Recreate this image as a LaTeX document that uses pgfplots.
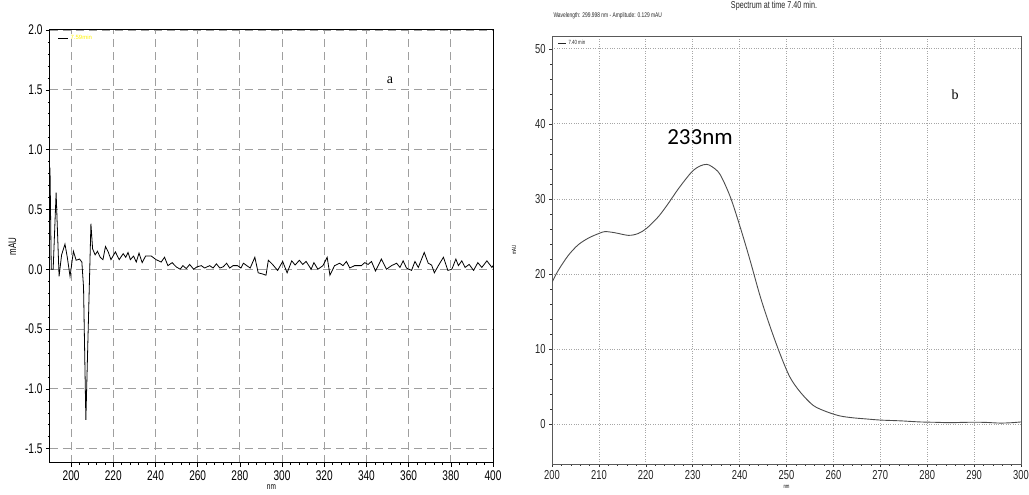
\documentclass[border=0pt]{standalone}
\usepackage{fontspec}
\setmainfont{Liberation Sans}
\newfontfamily\narrowsans[FakeStretch=0.72]{Liberation Sans}
\newfontfamily\seriffont{Liberation Serif}
\newfontfamily\carlito{Carlito}
\usepackage{pgfplots}
\pgfplotsset{compat=1.18}
\begin{document}
\begin{tikzpicture}
\path[use as bounding box] (0pt,0pt) rectangle (1029pt,495pt);
% ---------------- panel a ----------------
\begin{axis}[
  at={(50pt,32pt)}, anchor=south west, scale only axis,
  width=443pt, height=433pt,
  xmin=190, xmax=400, ymin=-1.62, ymax=2.0,
  xtick={200,220,...,400}, ytick={-1.5,-1,...,2},
  minor x tick num=4, minor y tick num=4,
  xtick pos=bottom, ytick pos=left,
  grid=major,
  major grid style={gray!75, dash pattern=on 8pt off 5pt, line width=0.9pt},
  axis line style={black, line width=1pt},
  tick style={black, line width=0.5pt}, tick align=outside,
  major tick length=4pt, minor tick length=2pt,
  /pgf/number format/assume math mode=true,
  ticklabel style={font=\narrowsans\fontsize{14}{14}\selectfont},
  yticklabel style={/pgf/number format/fixed, /pgf/number format/fixed zerofill, /pgf/number format/precision=1},
  xticklabel style={/pgf/number format/1000 sep={}},
  xlabel={nm}, ylabel={mAU},
  xlabel style={font=\narrowsans\fontsize{9}{9}\selectfont, yshift=3pt},
  ylabel style={font=\narrowsans\fontsize{11}{11}\selectfont, yshift=2pt},
  legend style={at={(0.015,0.995)}, anchor=north west, draw=none, fill=none,
    font=\fontsize{6}{6}\selectfont, text=yellow, inner sep=1pt},
  legend image code/.code={\draw[black, line width=0.8pt] (0pt,0pt) -- (10pt,0pt);},
]
\addplot[black, line width=0.8pt] coordinates {
(190,0.85) (190.6,0.0) (191.5,0.0) (192.9,0.64) (194.3,-0.06) (195.5,0.12)
(197.1,0.21) (198.2,0.10) (199.5,-0.06) (201.1,0.15) (202.4,0.075) (204.0,0.085)
(205.1,0.06) (205.9,-0.15) (207.0,-1.26) (209.4,0.38) (210.2,0.17) (211.4,0.12)
(212.5,0.15) (213.8,0.10) (215.1,0.08) (216.3,0.19) (217.6,0.145) (218.9,0.08)
(221.0,0.145) (222.8,0.08) (224.7,0.13) (225.9,0.10) (227.0,0.14) (228.1,0.08)
(229.6,0.11) (230.9,0.06) (232.2,0.135) (233.7,0.055) (235.3,0.11) (238.0,0.11)
(240.3,0.08) (242.7,0.06) (244.3,0.10) (245.9,0.03) (247.9,0.055) (249.8,0.02)
(251.7,0.0) (253.0,0.03) (254.6,0.005) (256.2,0.04) (258.1,0.0) (259.7,0.02)
(261.7,0.03) (263.3,0.01) (265.7,0.03) (267.3,0.01) (268.9,0.045) (270.5,0.01)
(272.1,0.02) (273.7,0.05) (275.2,0.01) (276.8,0.03) (278.9,0.03) (280.5,0.01)
(281.7,0.05) (283.3,0.03) (284.9,0.01) (287.1,0.10) (288.7,-0.03) (290.8,-0.04)
(292.4,-0.05) (293.5,0.075) (295.5,0.04) (297.9,-0.01) (300.3,0.065) (302.4,-0.03)
(304.6,0.07) (306.2,0.035) (308.2,0.075) (309.8,0.04) (311.4,0.065) (313.8,0.0)
(315.1,0.055) (317.0,0.0) (319.4,0.03) (321.4,0.10) (322.7,-0.05) (324.9,0.03)
(327.3,0.05) (328.9,0.03) (330.5,0.065) (332.1,0.01) (334.4,0.03) (337.6,0.03)
(339.2,0.055) (340.8,0.04) (342.4,0.065) (344.3,-0.015) (347.1,0.085) (349.5,0.0)
(351.9,0.03) (354.3,0.05) (355.9,0.015) (357.4,0.07) (359.0,0.01) (361.4,-0.01)
(363.0,0.065) (364.6,0.015) (367.4,0.14) (369.3,0.05) (370.9,0.035) (372.2,-0.03)
(374.1,0.03) (376.5,0.10) (378.6,-0.01) (380.5,0.0) (382.4,0.085) (383.6,0.03)
(385.2,0.07) (386.8,0.015) (388.7,0.04) (390.8,-0.01) (392.8,0.055) (394.7,0.015)
(397.1,0.07) (399.5,0.015) (400,0.03)
};
\addlegendentry{7.59min}
\end{axis}
\node[font=\seriffont\fontsize{14}{14}\selectfont] at (390pt,415pt) {a};
% ---------------- panel b ----------------
\begin{axis}[
  at={(552pt,31pt)}, anchor=south west, scale only axis,
  width=469pt, height=428pt,
  xmin=200, xmax=300, ymin=-5.3, ymax=51.7,
  xtick={200,210,...,300}, ytick={0,10,...,50},
  minor x tick num=4, minor y tick num=4,
  xtick pos=bottom, ytick pos=left,
  grid=major,
  major grid style={gray!70, dotted, line width=0.7pt},
  axis line style={gray!70!black, line width=0.9pt},
  tick style={gray!40!black, line width=0.5pt}, tick align=outside,
  major tick length=3pt, minor tick length=2pt,
  /pgf/number format/assume math mode=true,
  ticklabel style={font=\narrowsans\fontsize{13}{13}\selectfont, text=gray!30!black},
  xticklabel style={/pgf/number format/1000 sep={}},
  xlabel={nm}, ylabel={mAU},
  xlabel style={font=\narrowsans\fontsize{6}{6}\selectfont, yshift=1pt},
  ylabel style={font=\narrowsans\fontsize{6}{6}\selectfont, yshift=12pt},
  legend style={at={(0.01,0.997)}, anchor=north west, draw=none, fill=none,
    font=\narrowsans\fontsize{6}{6}\selectfont, text=gray!30!black, inner sep=1pt},
  legend image code/.code={\draw[gray!30!black, line width=0.7pt] (0pt,0pt) -- (8pt,0pt);},
]
\addplot[gray!60!black, line width=0.9pt, smooth] coordinates {
(200,18.9) (201.35,20.5) (203.5,22.5) (205.6,23.9) (207.8,24.8) (210,25.4)
(211.3,25.65) (213.4,25.5) (216.3,25.15) (218.4,25.4) (220.2,26.1) (222.7,27.65)
(224.8,29.4) (227,31.4) (229.8,33.6) (231.6,34.4) (233.0,34.6) (234.1,34.3)
(235.8,33.3) (238,30.3) (240.1,26.3) (242.2,21.9) (244.4,17.0) (246.5,13.0)
(248.6,9.4) (250.7,6.3) (252.9,4.3) (255.7,2.5) (258.6,1.65) (261.4,1.1)
(264.2,0.85) (267,0.7) (270,0.55) (274.2,0.45) (278.5,0.3) (282,0.25)
(284.9,0.2) (288,0.25) (292,0.25) (295.5,0.15) (298,0.2) (300,0.3)
};
\addlegendentry{7.40 min}
\end{axis}
\node[font=\narrowsans\fontsize{10}{10}\selectfont, text=gray!30!black] at (774pt,489pt) {Spectrum at time 7.40 min.};
\node[font=\narrowsans\fontsize{6.8}{6.8}\selectfont, text=gray!30!black, anchor=west] at (550pt,479pt) {Wavelength: 299.998 nm - Amplitude: 0.129 mAU};
\node[font=\seriffont\fontsize{14}{14}\selectfont] at (955pt,400pt) {b};
\node[font=\carlito\fontsize{23}{23}\selectfont] at (700pt,358pt) {233nm};
\end{tikzpicture}
\end{document}
